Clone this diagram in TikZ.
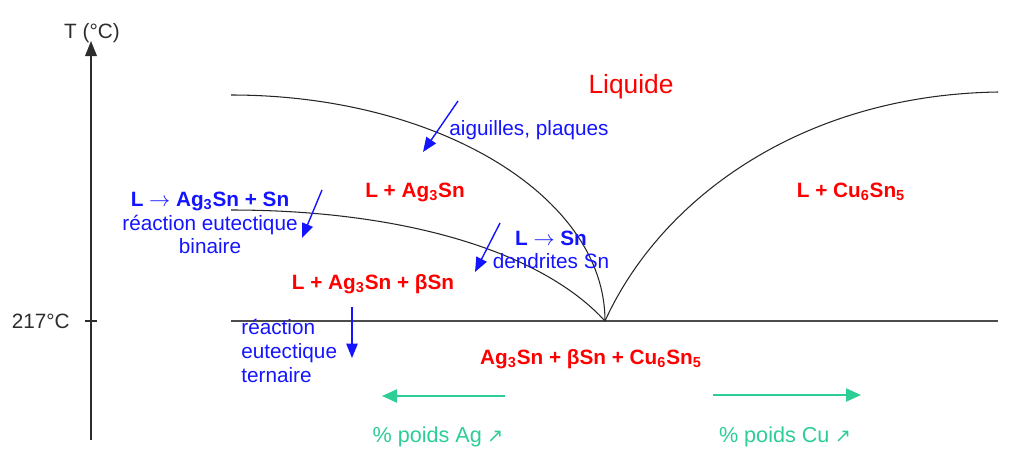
\documentclass[tikz,border=0pt]{standalone}
\usepackage{fontspec}
\setmainfont{Liberation Sans}
\newfontfamily\symfont{DejaVu Sans}
\usepackage{tikz}
\usetikzlibrary{arrows.meta}
\definecolor{phasec}{RGB}{255,0,0}
\definecolor{reacc}{RGB}{20,20,255}
\definecolor{poidsc}{RGB}{45,205,150}
\definecolor{axec}{RGB}{45,45,45}

\begin{document}
\begin{tikzpicture}[x=0.2mm, y=-0.2mm,
  every node/.style={font=\fontsize{11.8}{13.4}\selectfont, inner sep=0pt},
  ph/.style={text=phasec, font=\fontsize{11.8}{13.4}\selectfont\bfseries},
  rx/.style={text=reacc, align=center},
  bound/.style={black!85, line width=0.6pt},
  axe/.style={axec, line width=1.1pt},
  down/.style={-{Triangle[length=2.9mm, width=2.3mm]}, reacc, line width=0.8pt},
  comp/.style={-{Triangle[length=3mm, width=2.6mm]}, poidsc, line width=1.2pt},
]
\useasboundingbox (0,0) rectangle (1009,461);

\coordinate (ybot) at (91,440);
\coordinate (ytop) at (91,41);
\node[text=axec, anchor=base] (tlab) at (92,38) {T (°C)};
\draw[axe, -{Triangle[length=3mm, width=2.3mm]}] (ybot) -- (ytop);
\coordinate (tk1) at (85,321);
\coordinate (tk2) at (97,321);
\draw[axe, line width=0.8pt] (tk1) -- (tk2);
\node[text=axec, anchor=east] (teut) at (70,321) {217°C};

\coordinate (h1) at (231,321);
\coordinate (h2) at (998,321);
\coordinate (eut) at (605,321);
\coordinate (liqa) at (231,95);
\coordinate (liqb) at (231,210);
\coordinate (liqc) at (998,92);
\draw[black!70, line width=0.8pt] (h1) -- (h2);
\draw[bound] (liqa) .. controls (437,95) and (605,196) .. (eut);
\draw[bound] (liqb) .. controls (400,210) and (540,250) .. (eut);
\draw[bound] (eut) .. controls (660,200) and (800,95) .. (liqc);

\node[text=phasec, font=\fontsize{15}{18}\selectfont] (liq) at (631,87) {Liquide};
\node[ph] (lag) at (415,192) {L + Ag\textsubscript{3}Sn};
\node[ph] (lcu) at (851,192) {L + Cu\textsubscript{6}Sn\textsubscript{5}};
\node[ph] (lagb) at (373,284) {L + Ag\textsubscript{3}Sn + βSn};
\node[ph] (tern) at (591,359) {Ag\textsubscript{3}Sn + βSn + Cu\textsubscript{6}Sn\textsubscript{5}};

\node[rx] (aig) at (529,130) {aiguilles, plaques};
\node[rx] (bin) at (210,223) {\textbf{L $\rightarrow$ Ag\textsubscript{3}Sn + Sn}\\réaction eutectique\\binaire};
\node[rx] (dend) at (551,250) {\textbf{L $\rightarrow$ Sn}\\dendrites Sn};
\node[rx, align=left, anchor=west] (reut) at (241,351) {réaction\\eutectique\\ternaire};

\coordinate (a1) at (458,101);
\coordinate (a2) at (423,152);
\coordinate (b1) at (322,190);
\coordinate (b2) at (302,238);
\coordinate (c1) at (500,223);
\coordinate (c2) at (475,272);
\coordinate (d1) at (352,307);
\coordinate (d2) at (352,358);
\draw[down] (a1) -- (a2);
\draw[down] (b1) -- (b2);
\draw[down] (c1) -- (c2);
\draw[down] (d1) -- (d2);

\coordinate (ag1) at (505,396);
\coordinate (ag2) at (382,396);
\coordinate (cu1) at (713,395);
\coordinate (cu2) at (861,395);
\draw[comp] (ag1) -- (ag2);
\draw[comp] (cu1) -- (cu2);
\node[text=poidsc, font=\fontsize{12.3}{14}\selectfont] (pag) at (438,437) {\% poids Ag\hspace{3pt}{\symfont\fontsize{11}{12}\selectfont ↗}};
\node[text=poidsc, font=\fontsize{12.3}{14}\selectfont] (pcu) at (785,437) {\% poids Cu\hspace{3pt}{\symfont\fontsize{11}{12}\selectfont ↗}};
\end{tikzpicture}
\end{document}
